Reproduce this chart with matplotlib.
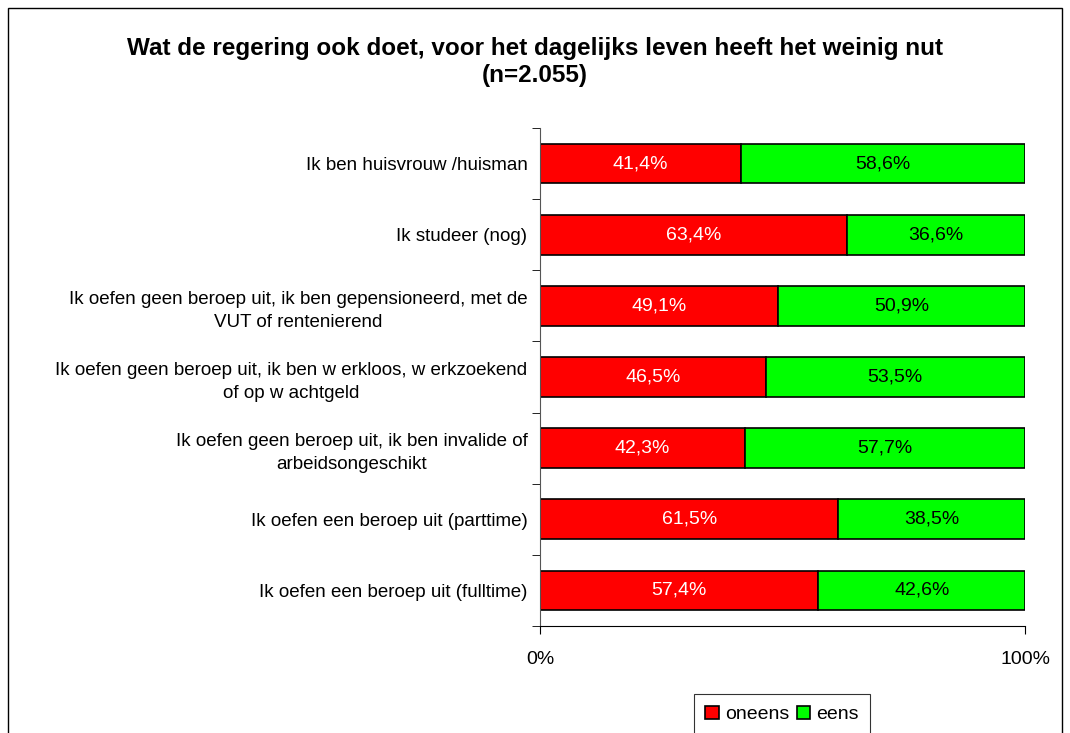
import matplotlib.pyplot as plt
import numpy as np
from matplotlib.patches import Rectangle

plt.rcParams['font.family'] = ['Liberation Sans', 'DejaVu Sans']

# categories from top to bottom
categories = [
    "Ik ben huisvrouw /huisman",
    "Ik studeer (nog)",
    "Ik oefen geen beroep uit, ik ben gepensioneerd, met de\nVUT of rentenierend",
    "Ik oefen geen beroep uit, ik ben w erkloos, w erkzoekend\nof op w achtgeld",
    "Ik oefen geen beroep uit, ik ben invalide of\narbeidsongeschikt",
    "Ik oefen een beroep uit (parttime)",
    "Ik oefen een beroep uit (fulltime)",
]
oneens = [41.4, 63.4, 49.1, 46.5, 42.3, 61.5, 57.4]
eens = [58.6, 36.6, 50.9, 53.5, 57.7, 38.5, 42.6]

fig = plt.figure(figsize=(10.7, 7.33), dpi=100)
fig.patches.append(Rectangle((8/1070, -0.1), 1054/1070, 1.1 - 8/733, transform=fig.transFigure,
                             fill=False, edgecolor='black', linewidth=1))
ax = fig.add_axes([540/1070, 1 - 626/733, 485/1070, 498/733])

y = np.arange(len(categories))
h = 0.56
ax.barh(y, oneens, height=h, color='#ff0000', edgecolor='black', linewidth=1.2, label='oneens')
ax.barh(y, eens, left=oneens, height=h, color='#00ff00', edgecolor='black', linewidth=1.2, label='eens')

for i in range(len(categories)):
    ax.text(oneens[i] / 2, y[i], f"{oneens[i]:.1f}%".replace('.', ','), ha='center', va='center',
            color='white', fontsize=14)
    ax.text(oneens[i] + eens[i] / 2, y[i], f"{eens[i]:.1f}%".replace('.', ','), ha='center', va='center',
            color='black', fontsize=14)

ax.set_ylim(len(categories) - 0.5, -0.5)
ax.set_xlim(0, 100)
ax.set_yticks(y)
ax.set_yticklabels(categories, fontsize=13.5, ha='right', multialignment='center', linespacing=1.45)
ax.tick_params(axis='y', length=0, pad=9)

# boundary tick marks on the y-axis
ax.set_yticks(np.arange(-0.5, len(categories)), minor=True)
ax.tick_params(axis='y', which='minor', length=6, direction='out', color='black')

ax.set_xticks([0, 100])
ax.set_xticklabels(['0%', '100%'], fontsize=14)
ax.tick_params(axis='x', length=6, direction='out', pad=12)

for s in ['top', 'right']:
    ax.spines[s].set_visible(False)
ax.spines['left'].set_color('#555555')

fig.text(0.5, 1 - 37/733, "Wat de regering ook doet, voor het dagelijks leven heeft het weinig nut\n(n=2.055)",
         ha='center', va='top', fontsize=17.5, fontweight='bold', linespacing=1.2)

leg = ax.legend(loc='upper center', bbox_to_anchor=(782/1070, 1 - 694/733), bbox_transform=fig.transFigure,
                ncol=2, frameon=True, fancybox=False, edgecolor='black', fontsize=14,
                handlelength=0.7, handleheight=0.7, handletextpad=0.3, columnspacing=0.4,
                borderpad=0.6, borderaxespad=0)
leg.get_frame().set_linewidth(0.8)

fig.savefig('out.png', dpi=100)
